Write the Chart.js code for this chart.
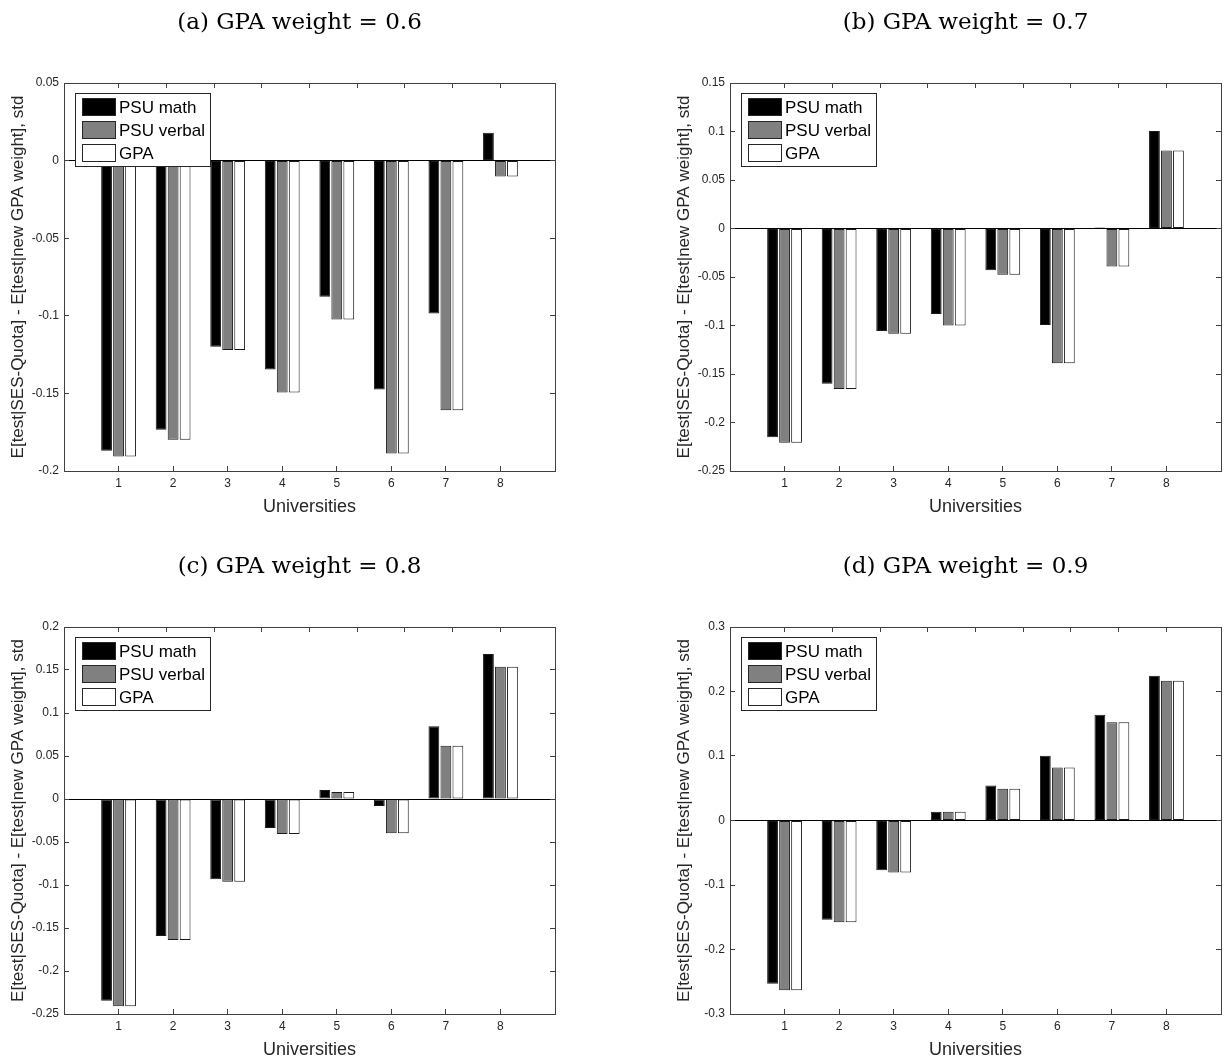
<!DOCTYPE html>
<html>
<head>
<meta charset="utf-8">
<script src="https://cdn.jsdelivr.net/npm/chart.js@4.4.1/dist/chart.umd.min.js"></script>
<style>
  body { margin: 0; background: #fff; overflow: hidden; }
  canvas { position: absolute; }
</style>
</head>
<body>
<canvas id="chartA" width="616" height="531" style="left:0;top:0"></canvas>
<canvas id="chartB" width="616" height="531" style="left:616px;top:0"></canvas>
<canvas id="chartC" width="616" height="543" style="left:0;top:531px"></canvas>
<canvas id="chartD" width="616" height="543" style="left:616px;top:531px"></canvas>
<script>
// universities on the x axis
const universities = [1, 2, 3, 4, 5, 6, 7, 8];
const seriesNames = ['PSU math', 'PSU verbal', 'GPA'];

// (a) GPA weight = 0.6
const mathA   = [-0.187, -0.1735, -0.120, -0.1346, -0.0878, -0.1475, -0.0985, 0.0179];
const verbalA = [-0.1907, -0.1798, -0.122, -0.1495, -0.1024, -0.1888, -0.1609, -0.0102];
const gpaA    = [-0.1907, -0.1798, -0.122, -0.1495, -0.1024, -0.1888, -0.1609, -0.0102];
const yTicksA = [-0.2, -0.15, -0.1, -0.05, 0, 0.05];

// (b) GPA weight = 0.7
const mathB   = [-0.2151, -0.160, -0.1057, -0.0882, -0.0431, -0.0995, 0.001, 0.1006];
const verbalB = [-0.2209, -0.1655, -0.1084, -0.0999, -0.0476, -0.139, -0.0393, 0.0803];
const gpaB    = [-0.2209, -0.1655, -0.1084, -0.0999, -0.0476, -0.139, -0.0393, 0.0803];
const yTicksB = [-0.25, -0.2, -0.15, -0.1, -0.05, 0, 0.05, 0.1, 0.15];

// (c) GPA weight = 0.8
const mathC   = [-0.2345, -0.1593, -0.0934, -0.0337, 0.0105, -0.0081, 0.0845, 0.1686];
const verbalC = [-0.2411, -0.164, -0.0961, -0.0407, 0.0081, -0.0399, 0.062, 0.1539];
const gpaC    = [-0.2411, -0.164, -0.0961, -0.0407, 0.0081, -0.0399, 0.062, 0.1539];
const yTicksC = [-0.25, -0.2, -0.15, -0.1, -0.05, 0, 0.05, 0.1, 0.15, 0.2];

// (d) GPA weight = 0.9
const mathD   = [-0.2532, -0.154, -0.077, 0.0135, 0.0543, 0.1003, 0.1638, 0.2243];
const verbalD = [-0.263, -0.1576, -0.0806, 0.0135, 0.0491, 0.0822, 0.1525, 0.2165];
const gpaD    = [-0.263, -0.1576, -0.0806, 0.0135, 0.0491, 0.0822, 0.1525, 0.2165];
const yTicksD = [-0.3, -0.2, -0.1, 0, 0.1, 0.2, 0.3];

const barColors = ['#000000', '#808080', '#ffffff'];
const axisColor = '#404040';
const sansFont = '"Liberation Sans", Arial, Helvetica, sans-serif';

// legend box drawn inside the plot, like matlab's 'northwest' legend
const boxLegend = {
    id: 'boxLegend',
    afterDatasetsDraw(chart) {
        const { ctx, chartArea } = chart;
        const x = Math.round(chartArea.left) + 11;
        const y = Math.round(chartArea.top) + 10;
        ctx.save();
        ctx.fillStyle = '#fff';
        ctx.fillRect(x, y, 135, 73);
        ctx.strokeStyle = '#262626';
        ctx.lineWidth = 1;
        ctx.strokeRect(x + 0.5, y + 0.5, 135, 73);
        ctx.font = '17px ' + sansFont;
        ctx.textBaseline = 'middle';
        chart.data.datasets.forEach((ds, i) => {
            const cy = y + 14 + i * 23;
            ctx.fillStyle = ds.backgroundColor;
            ctx.fillRect(x + 7, cy - 9, 33, 18);
            ctx.strokeRect(x + 7.5, cy - 8.5, 33, 17);
            ctx.fillStyle = '#000';
            ctx.fillText(ds.label, x + 44, cy + 1);
        });
        ctx.restore();
    }
};

// subfigure caption above each plot
const panelTitle = {
    id: 'panelTitle',
    afterDraw(chart, args, opts) {
        const { ctx, chartArea } = chart;
        ctx.save();
        ctx.font = '23px "DejaVu Serif", serif';
        ctx.textAlign = 'center';
        ctx.textBaseline = 'middle';
        ctx.fillStyle = '#000';
        ctx.fillText(opts.text, (chartArea.left + chartArea.right) / 2 - 10, chartArea.top - 60);
        ctx.restore();
    }
};

function makeChart(id, title, series, yTicks, pad) {
    const yMin = yTicks[0];
    const yMax = yTicks[yTicks.length - 1];
    const ctx = document.getElementById(id).getContext('2d');
    return new Chart(ctx, {
        type: 'bar',
        data: {
            labels: universities,
            datasets: series.map((vals, i) => ({
                label: seriesNames[i],
                data: vals,
                backgroundColor: barColors[i],
                borderColor: '#1a1a1a',
                borderWidth: 1,
                borderSkipped: false,
                categoryPercentage: 0.66,
                barPercentage: 0.9,
            })),
        },
        options: {
            responsive: false,
            animation: false,
            layout: { padding: pad },
            plugins: {
                legend: { display: false },
                tooltip: { enabled: false },
                panelTitle: { text: title },
            },
            scales: {
                x: {
                    type: 'linear',
                    position: 'bottom',
                    min: 0,
                    max: 9,
                    offset: false,
                    afterBuildTicks: s => { s.ticks = universities.map(v => ({ value: v })); },
                    afterFit: s => { s.height = 60; },
                    ticks: {
                        padding: 10,
                        maxRotation: 0,
                        color: '#262626',
                        font: { size: 12, family: sansFont },
                        callback: v => String(v),
                    },
                    grid: {
                        offset: false,
                        drawOnChartArea: false,
                        tickLength: -5,
                        tickColor: axisColor,
                    },
                    border: { color: axisColor, width: 1 },
                    title: {
                        display: true,
                        text: 'Universities',
                        color: '#262626',
                        font: { size: 18, family: sansFont },
                        padding: { top: 0, bottom: 13 },
                    },
                },
                x2: {
                    type: 'linear',
                    position: 'top',
                    min: 0,
                    max: 9,
                    afterBuildTicks: s => { s.ticks = universities.map(v => ({ value: v })); },
                    afterFit: s => { s.height = 0; },
                    ticks: { display: false },
                    grid: { drawOnChartArea: false, tickLength: -5, tickColor: axisColor },
                    border: { color: axisColor, width: 1 },
                },
                y: {
                    type: 'linear',
                    position: 'left',
                    min: yMin,
                    max: yMax,
                    afterBuildTicks: s => { s.ticks = yTicks.map(v => ({ value: v })); },
                    afterFit: s => { s.width = 64; },
                    ticks: {
                        padding: 10,
                        color: '#262626',
                        font: { size: 12, family: sansFont },
                        callback: v => String(v),
                    },
                    grid: {
                        drawOnChartArea: true,
                        color: c => (c.tick && c.tick.value === 0 ? '#000' : 'rgba(0,0,0,0)'),
                        tickLength: -5,
                        tickColor: axisColor,
                    },
                    border: { color: axisColor, width: 1 },
                    title: {
                        display: true,
                        text: 'E[test|SES-Quota] - E[test|new GPA weight], std',
                        color: '#262626',
                        font: { size: 17, family: sansFont },
                        padding: { top: 8, bottom: 0 },
                    },
                },
                y2: {
                    type: 'linear',
                    position: 'right',
                    min: yMin,
                    max: yMax,
                    afterBuildTicks: s => { s.ticks = yTicks.map(v => ({ value: v })); },
                    afterFit: s => { s.width = 0; },
                    ticks: { display: false },
                    grid: { drawOnChartArea: false, tickLength: -5, tickColor: axisColor },
                    border: { color: axisColor, width: 1 },
                },
            },
        },
        plugins: [boxLegend, panelTitle],
    });
}

makeChart('chartA', '(a) GPA weight = 0.6', [mathA, verbalA, gpaA], yTicksA,
    { left: 0, top: 83, right: 61, bottom: 0 });
makeChart('chartB', '(b) GPA weight = 0.7', [mathB, verbalB, gpaB], yTicksB,
    { left: 50, top: 83, right: 11, bottom: 0 });
makeChart('chartC', '(c) GPA weight = 0.8', [mathC, verbalC, gpaC], yTicksC,
    { left: 0, top: 96, right: 61, bottom: 0 });
makeChart('chartD', '(d) GPA weight = 0.9', [mathD, verbalD, gpaD], yTicksD,
    { left: 50, top: 96, right: 11, bottom: 0 });
</script>
</body>
</html>
